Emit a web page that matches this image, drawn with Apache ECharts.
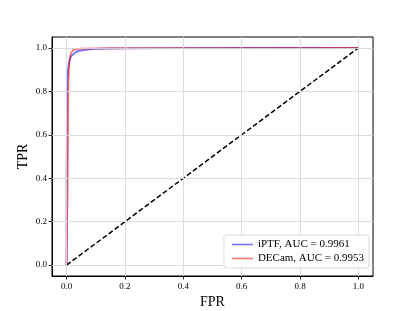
<!DOCTYPE html>
<html><head><meta charset="utf-8">
<script src="https://cdn.jsdelivr.net/npm/echarts@6/dist/echarts.min.js"></script>
<style>html,body{margin:0;padding:0;background:#fff}#c{width:415px;height:311px}</style>
</head><body><div id="c"></div>
<script>
const iptfFPR = [0, 0, 0.001, 0.002, 0.003, 0.005, 0.008, 0.012, 0.016, 0.02, 0.03, 0.04, 0.06, 0.08, 0.1, 0.15, 0.2, 0.4, 0.6, 1.0];
const iptfTPR = [0, 0.4, 0.7, 0.8, 0.86, 0.9, 0.93, 0.95, 0.962, 0.97, 0.979, 0.985, 0.99, 0.993, 0.995, 0.997, 0.998, 0.999, 1.0, 1.0];
const decamFPR = [0, 0.003, 0.005, 0.006, 0.007, 0.009, 0.012, 0.015, 0.018, 0.022, 0.03, 0.05, 0.1, 0.3, 1.0];
const decamTPR = [0, 0.3, 0.6, 0.8, 0.88, 0.93, 0.96, 0.975, 0.984, 0.989, 0.993, 0.996, 0.998, 0.999, 1.0];
const diagX = [0, 1];
const diagY = [0, 1];
const seriesNames = ['iPTF, AUC = 0.9961', 'DECam, AUC = 0.9953'];
const tickValues = [0, 0.2, 0.4, 0.6, 0.8, 1.0];

const zip = (a, b) => a.map((v, i) => [v, b[i]]);
const font = 'Liberation Serif';
const chart = echarts.init(document.getElementById('c'), null, {renderer: 'canvas'});
const axisCommon = {
  type: 'value', min: -0.05, max: 1.05,
  axisLine: {show: true, onZero: false, lineStyle: {color: '#000', width: 1}},
  axisTick: {show: true, inside: false, length: 3.5, customValues: tickValues, lineStyle: {color: '#000', width: 0.8}},
  axisLabel: {fontFamily: font, fontSize: 9, color: '#000', customValues: tickValues,
    formatter: v => Number(v).toFixed(1)},
  splitLine: {show: false},
  nameLocation: 'middle',
  nameMoveOverlap: false,
  nameTextStyle: {fontFamily: font, fontSize: 14, color: '#000'}
};
const gridLineData = tickValues.map(v => ({xAxis: v})).concat(tickValues.map(v => ({yAxis: v})));
chart.setOption({
  animation: false,
  backgroundColor: '#fff',
  grid: {left: 52, top: 37, width: 321, height: 239, show: true, borderColor: '#000', borderWidth: 1,
    containLabel: false, outerBoundsMode: 'none'},
  xAxis: Object.assign({}, axisCommon, {name: 'FPR', nameGap: 19, axisLabel: Object.assign({}, axisCommon.axisLabel, {margin: 6})}),
  yAxis: Object.assign({}, axisCommon, {name: 'TPR', nameGap: 22, axisLabel: Object.assign({}, axisCommon.axisLabel, {margin: 5})}),
  legend: {
    orient: 'vertical', right: 46, bottom: 43, z: 20, data: seriesNames,
    icon: 'rect', itemWidth: 21, itemHeight: 1.6, itemGap: 3,
    backgroundColor: '#fff', borderColor: '#d0d0d0', borderWidth: 0.8, borderRadius: 3,
    padding: [4, 5, 4, 8],
    textStyle: {fontFamily: font, fontSize: 11, lineHeight: 11, color: '#000'}
  },
  series: [
    {name: 'grid', type: 'line', data: [], z: 1, silent: true,
      markLine: {silent: true, symbol: 'none', label: {show: false}, animation: false,
        lineStyle: {color: '#d8d8d8', width: 0.9, type: 'solid'}, data: gridLineData}},
    {name: seriesNames[0], type: 'line', z: 2, data: zip(iptfFPR, iptfTPR), showSymbol: false, symbol: 'none',
      lineStyle: {color: 'rgba(0,0,255,0.55)', width: 1.8}, itemStyle: {color: 'rgba(0,0,255,0.55)'}, clip: false},
    {name: seriesNames[1], type: 'line', z: 3, data: zip(decamFPR, decamTPR), showSymbol: false, symbol: 'none',
      lineStyle: {color: 'rgba(255,0,0,0.55)', width: 1.8}, itemStyle: {color: 'rgba(255,0,0,0.55)'}, clip: false},
    {name: 'diag', type: 'line', z: 4, data: zip(diagX, diagY), showSymbol: false, symbol: 'none',
      lineStyle: {color: '#000', width: 1.5, type: [5, 2.5]}, clip: false}
  ]
});
</script></body></html>
